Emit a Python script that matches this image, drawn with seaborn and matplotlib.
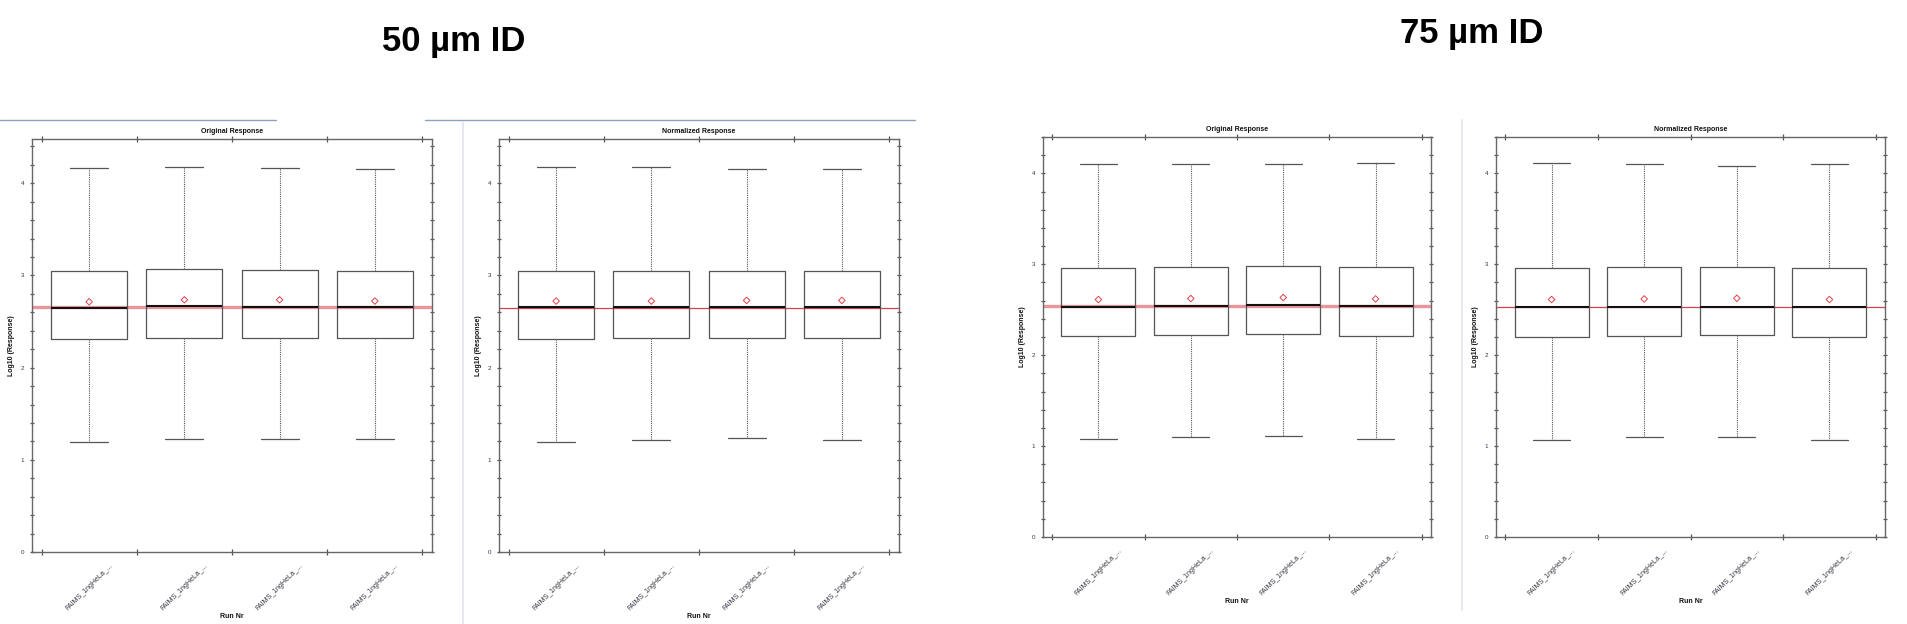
import numpy as np
import pandas as pd
import matplotlib
matplotlib.use("Agg")
import matplotlib.pyplot as plt
from matplotlib.lines import Line2D
from matplotlib.ticker import MultipleLocator
import seaborn as sns

# ---- run names (truncated as shown on the axis) ----
run_ids = ["run1", "run2", "run3", "run4"]
run_labels = ["FAIMS_1ngHeLa_...", "FAIMS_1ngHeLa_...", "FAIMS_1ngHeLa_...", "FAIMS_1ngHeLa_..."]

# ---- 50 um ID, original response (log10) ----
o50_low = [1.195, 1.224, 1.224, 1.224]
o50_q1 = [2.306, 2.324, 2.324, 2.316]
o50_med = [2.646, 2.667, 2.656, 2.653]
o50_q3 = [3.047, 3.065, 3.058, 3.051]
o50_high = [4.165, 4.172, 4.165, 4.150]
o50_mean = [2.714, 2.736, 2.736, 2.722]
o50_ref = 2.655

# ---- 50 um ID, normalized response ----
n50_low = [1.190, 1.217, 1.232, 1.217]
n50_q1 = [2.306, 2.316, 2.316, 2.316]
n50_med = [2.653, 2.653, 2.653, 2.653]
n50_q3 = [3.051, 3.051, 3.051, 3.051]
n50_high = [4.172, 4.172, 4.157, 4.157]
n50_mean = [2.722, 2.722, 2.729, 2.729]
n50_ref = 2.649

# ---- 75 um ID, original response ----
o75_low = [1.077, 1.096, 1.111, 1.077]
o75_q1 = [2.209, 2.220, 2.231, 2.216]
o75_med = [2.535, 2.542, 2.549, 2.542]
o75_q3 = [2.963, 2.971, 2.982, 2.971]
o75_high = [4.103, 4.103, 4.103, 4.114]
o75_mean = [2.612, 2.623, 2.634, 2.619]
o75_ref = 2.538

# ---- 75 um ID, normalized response ----
n75_low = [1.070, 1.095, 1.095, 1.070]
n75_q1 = [2.205, 2.212, 2.220, 2.205]
n75_med = [2.535, 2.535, 2.535, 2.535]
n75_q3 = [2.963, 2.967, 2.967, 2.963]
n75_high = [4.110, 4.103, 4.084, 4.103]
n75_mean = [2.612, 2.619, 2.626, 2.612]
n75_ref = 2.535

sns.set_theme(style="ticks")
plt.rcParams["font.family"] = ["Liberation Sans", "DejaVu Sans"]
plt.rcParams["text.color"] = "black"
plt.rcParams["axes.labelcolor"] = "black"

W, H = 1907, 624
fig = plt.figure(figsize=(W / 100, H / 100), dpi=100)
fig.patch.set_facecolor("white")


def px_axes(left, top, right, bottom):
    return fig.add_axes([left / W, 1 - bottom / H, (right - left) / W, (bottom - top) / H])


def draw_panel(ax, low, q1, med, q3, high, means, ref, title, ymax, thick_ref):
    # five summary values per run -> quartiles/whiskers reproduce exactly
    values = np.column_stack([low, q1, med, q3, high]).ravel()
    df = pd.DataFrame({"run": np.repeat(run_ids, 5), "value": values})
    ax.axhline(ref, color="#e8959c" if thick_ref else "#d9404f",
               lw=2.4 if thick_ref else 0.9, zorder=1)
    sns.boxplot(data=df, x="run", y="value", order=run_ids, whis=(0, 100),
                width=0.8, fill=False, color="#555555", linewidth=0.9,
                showfliers=False,
                medianprops=dict(color="#111111", linewidth=1.5),
                whiskerprops=dict(linestyle=(0, (1, 1)), linewidth=0.8),
                ax=ax)
    ax.scatter(np.arange(len(means)), means, marker="D", s=11,
               facecolors="none", edgecolors="#e0404c", linewidths=0.7, zorder=6)

    ax.set_xlim(-0.6, len(run_ids) - 0.4)
    ax.set_ylim(0, ymax)
    ax.set_facecolor("white")

    ax.set_xticks(np.arange(len(run_ids)))
    ax.set_xticklabels(run_labels, rotation=45, ha="center", fontsize=5, color="#333340")
    ax.set_xticks(np.arange(-0.5, len(run_ids)), minor=True)
    ax.tick_params(axis="x", which="major", length=0, pad=7)
    ax.tick_params(axis="x", which="minor", length=4.3, width=0.9, direction="inout",
                   top=True, bottom=True, color="#555555")

    ax.set_yticks(np.arange(0, int(ymax) + 1))
    ax.yaxis.set_minor_locator(MultipleLocator(0.2))
    ax.tick_params(axis="y", which="both", length=3, width=0.9, direction="inout",
                   left=True, right=True, labelsize=4.5, labelcolor="#333350",
                   color="#555555", pad=4)

    for sp in ax.spines.values():
        sp.set_visible(True)
        sp.set_color("#666666")
        sp.set_linewidth(1.0)

    ax.set_title(title, fontsize=5, fontweight="bold", pad=4, color="#111111")
    ax.set_ylabel("Log10 (Response)", fontsize=5, fontweight="bold", labelpad=4, color="#111111")
    ax.set_xlabel("Run Nr", fontsize=5, fontweight="bold", labelpad=1, color="#111111")


ax1 = px_axes(32, 139, 432, 552)
ax2 = px_axes(499, 139, 899, 552)
ax3 = px_axes(1043, 137, 1431, 537)
ax4 = px_axes(1496, 137, 1885, 537)

draw_panel(ax1, o50_low, o50_q1, o50_med, o50_q3, o50_high, o50_mean, o50_ref,
           "Original Response", 4.48, True)
draw_panel(ax2, n50_low, n50_q1, n50_med, n50_q3, n50_high, n50_mean, n50_ref,
           "Normalized Response", 4.48, False)
draw_panel(ax3, o75_low, o75_q1, o75_med, o75_q3, o75_high, o75_mean, o75_ref,
           "Original Response", 4.40, True)
draw_panel(ax4, n75_low, n75_q1, n75_med, n75_q3, n75_high, n75_mean, n75_ref,
           "Normalized Response", 4.40, False)

# section headings
fig.text(454 / W, 1 - 41 / H, "50 µm ID", ha="center", va="center", fontsize=25,
         fontweight="bold", color="black")
fig.text(1472 / W, 1 - 34 / H, "75 µm ID", ha="center", va="center", fontsize=25,
         fontweight="bold", color="black")


def fig_line(x0, y0, x1, y1, color, lw):
    fig.add_artist(Line2D([x0 / W, x1 / W], [1 - y0 / H, 1 - y1 / H],
                          transform=fig.transFigure, color=color, lw=lw))


# panel separators
fig_line(0, 120, 276, 120, "#8da2bb", 1.0)
fig_line(425, 120, 915, 120, "#8da2bb", 1.0)
fig_line(463, 122, 463, 624, "#e6e8ee", 1.5)
fig_line(1462, 120, 1462, 610, "#e6e8ee", 1.5)

fig.savefig("out.png", dpi=100)
